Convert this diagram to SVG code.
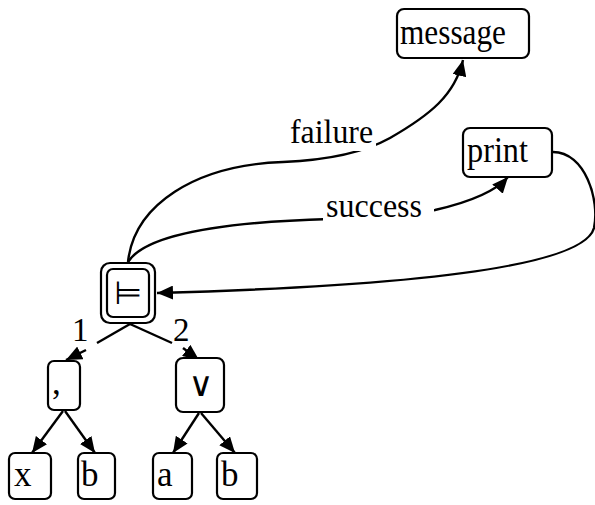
<svg xmlns="http://www.w3.org/2000/svg" width="595" height="505" viewBox="0 0 595 505">
<defs>
<marker id="ah" markerUnits="userSpaceOnUse" markerWidth="18" markerHeight="14" refX="16" refY="7" orient="auto">
<path d="M0,0 L16,7 L0,14 Z" fill="#000"/>
</marker>
<style>
.box{fill:#fff;stroke:#000;stroke-width:2.2}
.e{fill:none;stroke:#000;stroke-width:2.4}
.a{marker-end:url(#ah)}
.lbl{font-family:"Liberation Serif",serif;font-size:35px;fill:#000}
.el{font-family:"Liberation Serif",serif;font-size:33px;fill:#000}
.sym{font-family:"DejaVu Sans",sans-serif;fill:#000;text-anchor:middle}
.mask{fill:#fff}
</style>
</defs>
<rect width="595" height="505" fill="#fff"/>
<g id="connectors">
<path class="e a" d="M128,262 C134,205 195,165 283,162 C330,160 365,152 390,138 C430,115 455,95 463,60"/>
<path class="e a" d="M128,262 C145,235 220,222 330,219 C380,218 410,215 435,210 C470,202 495,192 508,177"/>
<path class="e a" d="M553,152 C585,152 600,200 594,228 C585,262 450,285 157,293"/>
<line class="e" x1="130" y1="324" x2="97" y2="343"/>
<line class="e" x1="130" y1="324" x2="172" y2="343"/>
<line class="e a" x1="86" y1="350" x2="66" y2="360"/>
<line class="e a" x1="183" y1="348" x2="199" y2="360"/>
<line class="e a" x1="63" y1="411" x2="32" y2="453"/>
<line class="e a" x1="65" y1="411" x2="95" y2="453"/>
<line class="e a" x1="199" y1="413" x2="173" y2="453"/>
<line class="e a" x1="201" y1="413" x2="235" y2="453"/>
<rect class="mask" x="288" y="115" width="88" height="36"/>
<text class="el" x="290" y="143" textLength="83" lengthAdjust="spacingAndGlyphs">failure</text>
<rect class="mask" x="323" y="190" width="111" height="34"/>
<text class="el" x="326" y="217" textLength="96" lengthAdjust="spacingAndGlyphs">success</text>
<text class="el" x="72" y="341">1</text>
<text class="el" x="173" y="341">2</text>
</g>
<g id="node-message">
<rect class="box" x="397" y="9" width="132" height="49" rx="7"/>
<text class="lbl" x="400" y="44" textLength="106" lengthAdjust="spacingAndGlyphs">message</text>
</g>
<g id="node-print">
<rect class="box" x="463" y="128" width="89" height="49" rx="7"/>
<text class="lbl" x="467" y="162" textLength="61" lengthAdjust="spacingAndGlyphs">print</text>
</g>
<g id="node-turnstile">
<rect class="box" x="101" y="263" width="54" height="60" rx="9"/>
<rect class="box" x="107" y="269" width="42" height="48" rx="6"/>
<text class="sym" x="128" y="304" font-size="32">⊨</text>
</g>
<g id="node-comma">
<rect class="box" x="48" y="361" width="32" height="49" rx="6"/>
<text class="lbl" x="52" y="394">,</text>
</g>
<g id="node-or">
<rect class="box" x="176" y="358" width="48" height="54" rx="7"/>
<text class="sym" x="201" y="396" font-size="34">∨</text>
</g>
<g id="node-x">
<rect class="box" x="9" y="453" width="42" height="46" rx="6"/>
<text class="lbl" x="14" y="486">x</text>
</g>
<g id="node-b1">
<rect class="box" x="78" y="453" width="37" height="46" rx="6"/>
<text class="lbl" x="81" y="486">b</text>
</g>
<g id="node-a">
<rect class="box" x="153" y="453" width="39" height="46" rx="6"/>
<text class="lbl" x="157" y="486">a</text>
</g>
<g id="node-b2">
<rect class="box" x="217" y="453" width="40" height="46" rx="6"/>
<text class="lbl" x="221" y="486">b</text>
</g>
</svg>
